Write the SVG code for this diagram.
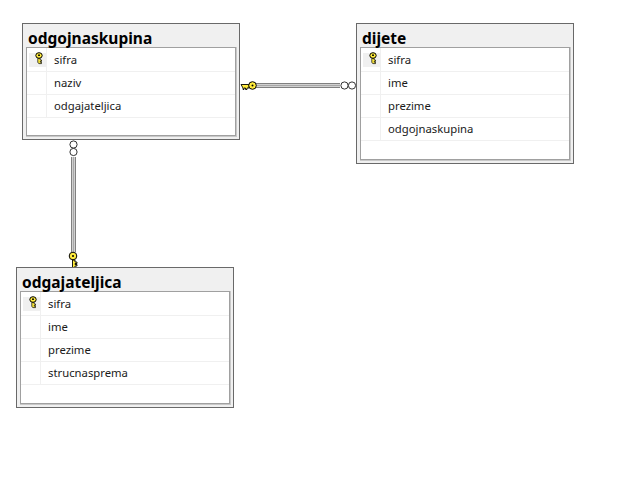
<svg xmlns="http://www.w3.org/2000/svg" width="643" height="485" viewBox="0 0 643 485">
<style>
.outer{fill:#f0f0f0;stroke:#696969;stroke-width:1;shape-rendering:crispEdges}
.inner{fill:#fff;stroke:#a0a0a0;stroke-width:1;shape-rendering:crispEdges}
.frame{fill:none;stroke:#c8c8c8;stroke-width:1;shape-rendering:crispEdges}
.sep{stroke:#f0f0f0;stroke-width:1;shape-rendering:crispEdges;fill:none}
.sel{fill:#f0f0f0}
.t{font-family:"Noto Sans","Open Sans",sans-serif;font-weight:700;font-size:15.5px;fill:#000}
.f{font-family:"Noto Sans","Open Sans",sans-serif;font-size:11.3px;fill:#1a1a1a}
.line{stroke:#808080;stroke-width:1;fill:none;shape-rendering:crispEdges}
.mid{stroke:#d0d0d0;stroke-width:1;fill:none;shape-rendering:crispEdges}
.ring{fill:#fff;stroke:#000;stroke-width:.8}
.kb{fill:#ffec3d;stroke:#000;stroke-width:1}
</style>
<defs>
<g id="key">
<ellipse cx="0" cy="-2.500" rx="3.200" ry="2.800" fill="#ffec3d" stroke="#000"/>
<path d="M-1.200 0.500H1.200V2H2.500V3.400H1.200V4.200H2.500V5.600H0L-1.200 4.600Z" fill="#ffec3d" stroke="#000" stroke-width=".7"/>
<rect x="-1" y="-3.500" width="2" height="1.400" fill="#000"/>
</g>
</defs>
<rect width="643" height="485" fill="#fff"/>
<g id="connectors">
<path class="line" d="M256 83.500H340M256 87.500H340"/>
<path class="mid" d="M256 84.500H340M256 86.500H340"/>
<path d="M256 85.500H340" stroke="#a8a8a8" fill="none" shape-rendering="crispEdges"/>
<circle class="ring" cx="344.500" cy="85.500" r="3.600"/>
<circle class="ring" cx="352" cy="85.500" r="3.600"/>
<path d="M241 84.500H249V88H247V89.500H245.500V88H244V89.500H243V88Z" fill="#ffec3d" stroke="#000" stroke-width=".9"/>
<circle cx="252.500" cy="85.500" r="3.800" class="kb"/>
<circle cx="252.500" cy="85.500" r="1" fill="#000"/>
<path class="line" d="M71.500 157V252M75.500 157V252"/>
<path class="mid" d="M72.500 157V252M74.500 157V252"/>
<path d="M73.500 157V252" stroke="#a8a8a8" fill="none" shape-rendering="crispEdges"/>
<circle class="ring" cx="73.500" cy="144.500" r="3.600"/>
<circle class="ring" cx="73.500" cy="152" r="3.600"/>
<path d="M72.500 260H75V262H77V263.500H75V264.500H77V266H75V268H72.500Z" fill="#ffec3d" stroke="#000" stroke-width=".9"/>
<circle cx="73" cy="256" r="3.800" class="kb"/>
<circle cx="73" cy="256" r="1" fill="#000"/>
</g>
<g id="odgojnaskupina">
<rect class="outer" x="22.500" y="23.500" width="217" height="116"/>
<rect class="inner" x="26.500" y="47.500" width="209" height="88"/>
<path class="frame" d="M236.500 47V136.500H26"/>
<rect class="sel" x="29" y="53" width="17" height="14"/>
<path class="sep" d="M27 71.500H235M27 94.500H235M27 117.500H235M46.500 48V117"/>
<use href="#key" x="39" y="58"/>
<text class="t" x="28" y="44">odgojnaskupina</text>
<text class="f" x="54" y="64">sifra</text>
<text class="f" x="54" y="87">naziv</text>
<text class="f" x="54" y="110">odgajateljica</text>
</g>
<g id="dijete">
<rect class="outer" x="356.500" y="23.500" width="217" height="140"/>
<rect class="inner" x="360.500" y="47.500" width="209" height="112"/>
<path class="frame" d="M570.500 47V160.500H360"/>
<rect class="sel" x="363" y="53" width="17" height="14"/>
<path class="sep" d="M361 71.500H569M361 94.500H569M361 117.500H569M361 140.500H569M380.500 48V140"/>
<use href="#key" x="373" y="58"/>
<text class="t" x="362" y="44">dijete</text>
<text class="f" x="388" y="64">sifra</text>
<text class="f" x="388" y="87">ime</text>
<text class="f" x="388" y="110">prezime</text>
<text class="f" x="388" y="133">odgojnaskupina</text>
</g>
<g id="odgajateljica">
<rect class="outer" x="16.500" y="267.500" width="217" height="140"/>
<rect class="inner" x="20.500" y="291.500" width="209" height="112"/>
<path class="frame" d="M230.500 291V404.500H20"/>
<rect class="sel" x="23" y="297" width="17" height="14"/>
<path class="sep" d="M21 315.500H229M21 338.500H229M21 361.500H229M21 384.500H229M40.500 292V384"/>
<use href="#key" x="33" y="302"/>
<text class="t" x="22" y="288">odgajateljica</text>
<text class="f" x="48" y="308">sifra</text>
<text class="f" x="48" y="331">ime</text>
<text class="f" x="48" y="354">prezime</text>
<text class="f" x="48" y="377">strucnasprema</text>
</g>
</svg>
